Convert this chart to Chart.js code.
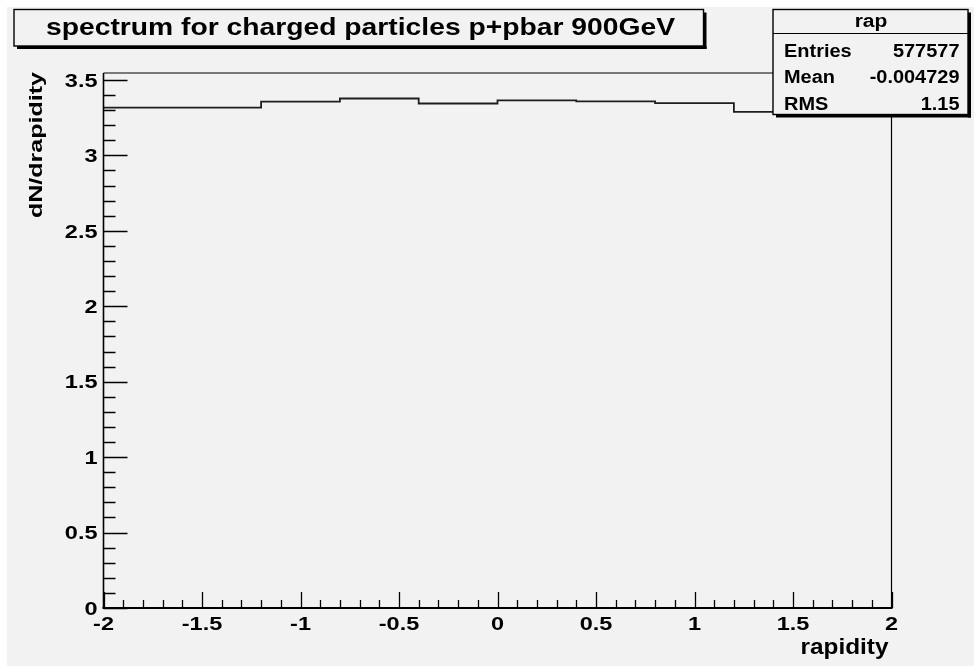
<!DOCTYPE html>
<html><head><meta charset="utf-8">
<script src="https://cdn.jsdelivr.net/npm/chart.js@4.4.1/dist/chart.umd.min.js"></script>
<style>html,body{margin:0;padding:0;background:#fff;overflow:hidden}canvas{display:block}</style>
</head><body>
<canvas id="c" width="974" height="666"></canvas>
<script>
// ---- data ----
const binEdges = [-2, -1.6, -1.2, -0.8, -0.4, 0, 0.4, 0.8, 1.2, 1.6, 2];
const dNdy = [3.316, 3.316, 3.356, 3.377, 3.344, 3.364, 3.358, 3.346, 3.288, 3.31];
const xMajorTicks = [-2, -1.5, -1, -0.5, 0, 0.5, 1, 1.5, 2];
const xTickLabels = ['-2', '-1.5', '-1', '-0.5', '0', '0.5', '1', '1.5', '2'];
const yMajorTicks = [0, 0.5, 1, 1.5, 2, 2.5, 3, 3.5];
const yTickLabels = ['0', '0.5', '1', '1.5', '2', '2.5', '3', '3.5'];
const titleText = 'spectrum for charged particles p+pbar 900GeV';
const xTitle = 'rapidity';
const yTitle = 'dN/drapidity';
const statsName = 'rap';
const statsLabels = ['Entries', 'Mean', 'RMS'];
const statsValues = ['577577', '-0.004729', '1.15'];
const xMin = -2, xMax = 2, yMin = 0, yMax = 3.546;

const points = binEdges.map((e, i) => ({ x: e, y: dNdy[Math.min(i, dNdy.length - 1)] }));

const FONT = '"Liberation Sans", Arial, Helvetica, sans-serif';
function txt(ctx, s, x, y, size, align, opt) {
  opt = opt || {};
  ctx.save();
  ctx.font = 'bold ' + size + 'px ' + FONT;
  const w = ctx.measureText(s).width;
  const sx = opt.width ? opt.width / w : (opt.stretch || 1);
  ctx.translate(x, y);
  if (opt.rotate) ctx.rotate(opt.rotate);
  ctx.scale(sx, 1);
  ctx.textBaseline = 'alphabetic';
  ctx.textAlign = align;
  ctx.fillStyle = '#000';
  ctx.fillText(s, 0, 0);
  ctx.restore();
}
function pave(ctx, x1, y1, x2, y2, sh) {
  ctx.save();
  ctx.fillStyle = '#f2f2f2';
  ctx.fillRect(x1, y1, x2 - x1, y2 - y1);
  ctx.strokeStyle = '#000';
  ctx.lineWidth = 1.4;
  ctx.strokeRect(x1, y1, x2 - x1, y2 - y1);
  ctx.fillStyle = '#000';
  ctx.fillRect(x2, y1 + sh, sh, y2 - y1);
  ctx.fillRect(x1 + sh, y2, x2 - x1, sh);
  ctx.restore();
}

const rootPlugin = {
  id: 'rootStyle',
  beforeDraw(chart) {
    const ctx = chart.ctx;
    ctx.save();
    ctx.fillStyle = '#fff';
    ctx.fillRect(0, 0, chart.width, chart.height);
    ctx.fillStyle = '#f2f2f2';
    ctx.fillRect(7, 7, chart.width - 7, chart.height - 7);
    ctx.restore();
  },
  afterDraw(chart) {
    const ctx = chart.ctx;
    const xs = chart.scales.x, ys = chart.scales.y;
    const L = xs.getPixelForValue(xMin), R = xs.getPixelForValue(xMax);
    const B = ys.getPixelForValue(yMin), T = ys.getPixelForValue(yMax);
    ctx.save();
    ctx.strokeStyle = '#000';
    // frame
    ctx.lineWidth = 1.2;
    ctx.beginPath();
    ctx.moveTo(L, T); ctx.lineTo(R, T); ctx.lineTo(R, B);
    ctx.stroke();
    // axes
    ctx.lineWidth = 2;
    ctx.beginPath(); ctx.moveTo(L - 1, B); ctx.lineTo(R + 1, B); ctx.stroke();
    ctx.lineWidth = 1.6;
    ctx.beginPath(); ctx.moveTo(L, B); ctx.lineTo(L, T); ctx.stroke();
    // x ticks (major 0.5, minor 0.1)
    ctx.lineWidth = 1.3;
    ctx.beginPath();
    for (let k = 0; k <= 40; k++) {
      const v = xMin + k * 0.1;
      const px = Math.round(xs.getPixelForValue(v)) + 0.5;
      const len = (k % 5 === 0) ? 16 : 8;
      ctx.moveTo(px, B); ctx.lineTo(px, B - len);
    }
    // y ticks
    for (let k = 0; k <= 35; k++) {
      const v = yMin + k * 0.1;
      const py = Math.round(ys.getPixelForValue(v)) + 0.5;
      const len = (k % 5 === 0) ? 24 : 12;
      ctx.moveTo(L, py); ctx.lineTo(L + len, py);
    }
    ctx.stroke();
    ctx.restore();
    // tick labels
    xMajorTicks.forEach((v, i) => {
      txt(ctx, xTickLabels[i], xs.getPixelForValue(v), B + 22, 18.5, 'center', { stretch: 1.27 });
    });
    yMajorTicks.forEach((v, i) => {
      txt(ctx, yTickLabels[i], L - 6, ys.getPixelForValue(v) + 6.8, 18.5, 'right', { stretch: 1.27 });
    });
    // axis titles
    txt(ctx, xTitle, R - 3, 654, 22, 'right', { width: 88 });
    txt(ctx, yTitle, 42, 218, 19, 'left', { width: 146, rotate: -Math.PI / 2 });
    // title pave
    pave(ctx, 14, 9.5, 703.5, 46, 3);
    txt(ctx, titleText, 360.5, 35, 23, 'center', { width: 629 });
    // stats pave
    pave(ctx, 773, 9.5, 968, 114.5, 3);
    ctx.save();
    ctx.strokeStyle = '#000'; ctx.lineWidth = 1.2;
    ctx.beginPath(); ctx.moveTo(773, 33.5); ctx.lineTo(968, 33.5); ctx.stroke();
    ctx.restore();
    txt(ctx, statsName, 871, 26.7, 18, 'center', { width: 32.7 });
    const base = [57.3, 83.3, 110];
    statsLabels.forEach((s, i) => {
      txt(ctx, s, 784, base[i], 17.5, 'left', { stretch: 1.14 });
      txt(ctx, statsValues[i], 959.5, base[i], 17.5, 'right', { stretch: 1.14 });
    });
  }
};

new Chart(document.getElementById('c'), {
  type: 'line',
  data: {
    datasets: [{
      data: points,
      stepped: 'before',
      borderColor: '#1e1e1e',
      borderWidth: 1.8,
      pointRadius: 0,
      fill: false
    }]
  },
  options: {
    responsive: false,
    animation: false,
    devicePixelRatio: 1,
    layout: { padding: { left: 103.5, right: 82.5, top: 73, bottom: 58 } },
    scales: {
      x: { type: 'linear', min: xMin, max: xMax, display: false },
      y: { type: 'linear', min: yMin, max: yMax, display: false }
    },
    plugins: { legend: { display: false }, tooltip: { enabled: false }, title: { display: false } }
  },
  plugins: [rootPlugin]
});
</script>
</body></html>
